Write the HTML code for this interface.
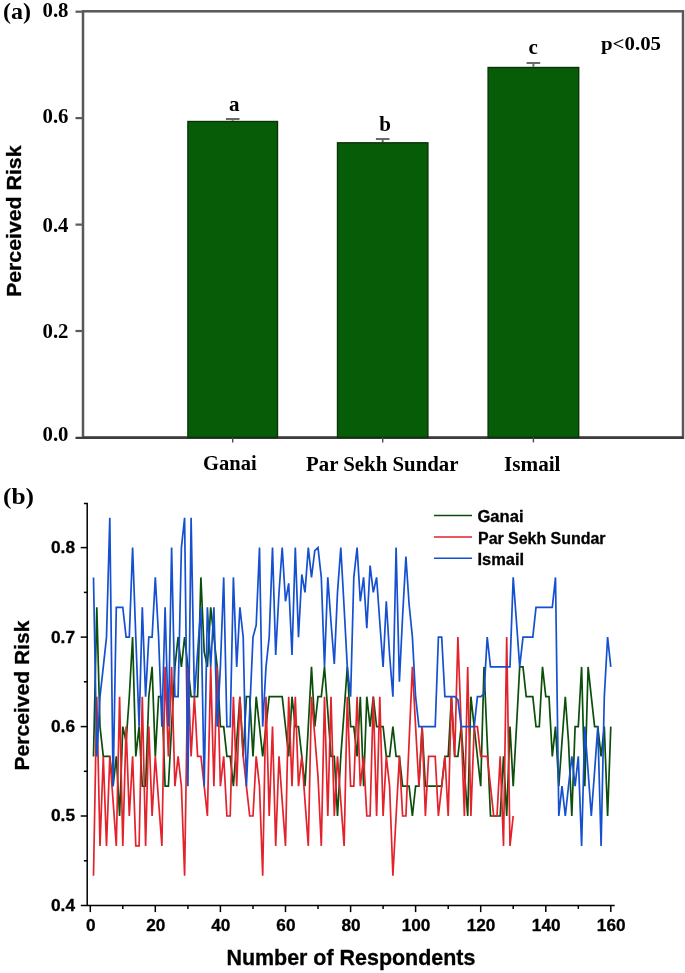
<!DOCTYPE html>
<html lang="en"><head><meta charset="utf-8"><title>Perceived Risk</title>
<style>html,body{margin:0;padding:0;background:#fff}body{width:685px;height:973px;overflow:hidden}svg{display:block}</style>
</head><body>
<svg width="685" height="973" viewBox="0 0 685 973">
<rect width="685" height="973" fill="#fff"/>
<g id="chartA">
<rect x="83" y="11.3" width="600" height="426.1" fill="none" stroke="#585858" stroke-width="2.5"/>
<line x1="75.5" y1="437.9" x2="683.8" y2="437.9" stroke="#3c3c3c" stroke-width="2.4"/>
<line x1="75.5" y1="331.0" x2="83" y2="331.0" stroke="#5a5a5a" stroke-width="2.2"/>
<line x1="75.5" y1="224.6" x2="83" y2="224.6" stroke="#5a5a5a" stroke-width="2.2"/>
<line x1="75.5" y1="118.1" x2="83" y2="118.1" stroke="#5a5a5a" stroke-width="2.2"/>
<line x1="75.5" y1="11.7" x2="83" y2="11.7" stroke="#5a5a5a" stroke-width="2.2"/>
<rect x="187.9" y="121.5" width="89.6" height="315.9" fill="#075c07" stroke="#0a330a" stroke-width="1.4"/>
<path d="M232.7 120.8 V118.9 M225.9 118.9 H239.5" stroke="#6a6a6a" stroke-width="2" fill="none"/>
<line x1="232.7" y1="437.4" x2="232.7" y2="442.4" stroke="#4a4a4a" stroke-width="1.4"/>
<rect x="337.5" y="142.8" width="90.4" height="294.6" fill="#075c07" stroke="#0a330a" stroke-width="1.4"/>
<path d="M382.7 142.1 V138.9 M375.9 138.9 H389.5" stroke="#6a6a6a" stroke-width="2" fill="none"/>
<line x1="382.7" y1="437.4" x2="382.7" y2="442.4" stroke="#4a4a4a" stroke-width="1.4"/>
<rect x="488.1" y="67.5" width="90.6" height="369.9" fill="#075c07" stroke="#0a330a" stroke-width="1.4"/>
<path d="M533.4 66.8 V63.1 M526.6 63.1 H540.2" stroke="#6a6a6a" stroke-width="2" fill="none"/>
<line x1="533.4" y1="437.4" x2="533.4" y2="442.4" stroke="#4a4a4a" stroke-width="1.4"/>
</g>
<g font-family="'Liberation Serif', serif" font-weight="bold" fill="#000">
<text x="3" y="18.5" font-size="24" textLength="28" lengthAdjust="spacingAndGlyphs">(a)</text>
<text x="3" y="504" font-size="24" textLength="31" lengthAdjust="spacingAndGlyphs">(b)</text>
<text x="42.5" y="441.2" font-size="20" textLength="26" lengthAdjust="spacingAndGlyphs">0.0</text>
<text x="42.5" y="338.0" font-size="20" textLength="26" lengthAdjust="spacingAndGlyphs">0.2</text>
<text x="42.5" y="231.6" font-size="20" textLength="26" lengthAdjust="spacingAndGlyphs">0.4</text>
<text x="42.5" y="122.5" font-size="20" textLength="26" lengthAdjust="spacingAndGlyphs">0.6</text>
<text x="42.5" y="17.3" font-size="20" textLength="26" lengthAdjust="spacingAndGlyphs">0.8</text>
<text x="203" y="469.8" font-size="20" textLength="53.7" lengthAdjust="spacingAndGlyphs">Ganai</text>
<text x="306" y="470.5" font-size="20" textLength="152.5" lengthAdjust="spacingAndGlyphs">Par Sekh Sundar</text>
<text x="504" y="471" font-size="20" textLength="56.5" lengthAdjust="spacingAndGlyphs">Ismail</text>
<text x="601" y="50.4" font-size="19.5" textLength="60" lengthAdjust="spacingAndGlyphs">p&lt;0.05</text>
<text x="234.3" y="110.6" font-size="21" text-anchor="middle">a</text>
<text x="385" y="131" font-size="21" text-anchor="middle">b</text>
<text x="533.2" y="53.5" font-size="21" text-anchor="middle">c</text>
</g>
<g font-family="'Liberation Sans', sans-serif" font-weight="bold" fill="#000" stroke="#000" stroke-width="0.3">
<text transform="translate(20.7 297) rotate(-90)" font-size="21" textLength="151.5" lengthAdjust="spacingAndGlyphs">Perceived Risk</text>
<text transform="translate(29.2 770.5) rotate(-90)" font-size="21" textLength="150" lengthAdjust="spacingAndGlyphs">Perceived Risk</text>
<text x="51" y="910.9" font-size="17.3" textLength="24" lengthAdjust="spacingAndGlyphs">0.4</text>
<text x="51" y="821.4" font-size="17.3" textLength="24" lengthAdjust="spacingAndGlyphs">0.5</text>
<text x="51" y="732.0" font-size="17.3" textLength="24" lengthAdjust="spacingAndGlyphs">0.6</text>
<text x="51" y="642.5" font-size="17.3" textLength="24" lengthAdjust="spacingAndGlyphs">0.7</text>
<text x="51" y="553.0" font-size="17.3" textLength="24" lengthAdjust="spacingAndGlyphs">0.8</text>
<text x="90.7" y="931" font-size="17.2" text-anchor="middle">0</text>
<text x="155.8" y="931" font-size="17.2" text-anchor="middle">20</text>
<text x="220.8" y="931" font-size="17.2" text-anchor="middle">40</text>
<text x="285.9" y="931" font-size="17.2" text-anchor="middle">60</text>
<text x="351.0" y="931" font-size="17.2" text-anchor="middle">80</text>
<text x="416.0" y="931" font-size="17.2" text-anchor="middle">100</text>
<text x="481.1" y="931" font-size="17.2" text-anchor="middle">120</text>
<text x="546.2" y="931" font-size="17.2" text-anchor="middle">140</text>
<text x="611.2" y="931" font-size="17.2" text-anchor="middle">160</text>
<text x="226.4" y="965.3" font-size="21.4" textLength="249" lengthAdjust="spacingAndGlyphs">Number of Respondents</text>
<text x="477.5" y="521.5" font-size="16" textLength="46" lengthAdjust="spacingAndGlyphs">Ganai</text>
<text x="478" y="544" font-size="16" textLength="127.5" lengthAdjust="spacingAndGlyphs">Par Sekh Sundar</text>
<text x="477.5" y="564.7" font-size="16" textLength="46.5" lengthAdjust="spacingAndGlyphs">Ismail</text>
</g>
<g id="chartB" stroke="#000" stroke-width="1.5" fill="none">
<path d="M83.9 503.5 H87.2 V905.5 H614.7 M80.8 905.5 H87.2"/>
<line x1="83.9" y1="860.8" x2="87.2" y2="860.8"/>
<line x1="80.7" y1="816.0" x2="87.2" y2="816.0"/>
<line x1="83.9" y1="771.3" x2="87.2" y2="771.3"/>
<line x1="80.7" y1="726.6" x2="87.2" y2="726.6"/>
<line x1="83.9" y1="681.8" x2="87.2" y2="681.8"/>
<line x1="80.7" y1="637.1" x2="87.2" y2="637.1"/>
<line x1="83.9" y1="592.4" x2="87.2" y2="592.4"/>
<line x1="80.7" y1="547.6" x2="87.2" y2="547.6"/>
<line x1="90.3" y1="905.5" x2="90.3" y2="912.1"/>
<line x1="122.8" y1="905.5" x2="122.8" y2="908.9"/>
<line x1="155.3" y1="905.5" x2="155.3" y2="912.1"/>
<line x1="187.9" y1="905.5" x2="187.9" y2="908.9"/>
<line x1="220.4" y1="905.5" x2="220.4" y2="912.1"/>
<line x1="253.0" y1="905.5" x2="253.0" y2="908.9"/>
<line x1="285.5" y1="905.5" x2="285.5" y2="912.1"/>
<line x1="318.0" y1="905.5" x2="318.0" y2="908.9"/>
<line x1="350.6" y1="905.5" x2="350.6" y2="912.1"/>
<line x1="383.1" y1="905.5" x2="383.1" y2="908.9"/>
<line x1="415.6" y1="905.5" x2="415.6" y2="912.1"/>
<line x1="448.2" y1="905.5" x2="448.2" y2="908.9"/>
<line x1="480.7" y1="905.5" x2="480.7" y2="912.1"/>
<line x1="513.2" y1="905.5" x2="513.2" y2="908.9"/>
<line x1="545.8" y1="905.5" x2="545.8" y2="912.1"/>
<line x1="578.3" y1="905.5" x2="578.3" y2="908.9"/>
<line x1="610.8" y1="905.5" x2="610.8" y2="912.1"/>
</g>
<g fill="none" stroke-width="1.7" stroke-linejoin="miter" stroke-miterlimit="3">
<line x1="434" y1="515.4" x2="472" y2="515.4" stroke="#0b4f0b" stroke-width="1.5"/>
<line x1="434" y1="537" x2="472" y2="537" stroke="#e3222b" stroke-width="1.5"/>
<line x1="434" y1="558.2" x2="472" y2="558.2" stroke="#1450cf" stroke-width="1.5"/>
<polyline stroke="#0b4f0b" points="93.5,756.4 96.8,607.3 100.0,726.6 103.3,756.4 106.5,756.4 109.8,756.4 113.1,786.2 116.3,756.4 119.6,816.0 122.8,726.6 126.1,741.5 129.3,696.7 132.6,637.1 135.8,756.4 139.1,726.6 142.3,786.2 145.6,786.2 148.8,696.7 152.1,666.9 155.3,756.4 158.6,696.7 161.9,696.7 165.1,786.2 168.4,786.2 171.6,726.6 174.9,666.9 178.1,637.1 181.4,666.9 184.6,637.1 187.9,666.9 191.1,696.7 194.4,696.7 197.6,696.7 200.9,577.4 204.2,652.0 207.4,666.9 210.7,607.3 213.9,637.1 217.2,666.9 220.4,726.6 223.7,726.6 226.9,756.4 230.2,756.4 233.4,786.2 236.7,741.5 239.9,696.7 243.2,756.4 246.4,696.7 249.7,696.7 253.0,756.4 256.2,696.7 259.5,726.6 262.7,756.4 266.0,726.6 269.2,696.7 272.5,696.7 275.7,696.7 279.0,696.7 282.2,696.7 285.5,726.6 288.7,756.4 292.0,696.7 295.3,726.6 298.5,726.6 301.8,756.4 305.0,786.2 308.3,726.6 311.5,666.9 314.8,726.6 318.0,696.7 321.3,696.7 324.5,666.9 327.8,711.6 331.0,756.4 334.3,756.4 337.5,816.0 340.8,756.4 344.1,711.6 347.3,666.9 350.6,726.6 353.8,726.6 357.1,756.4 360.3,696.7 363.6,786.2 366.8,696.7 370.1,726.6 373.3,696.7 376.6,726.6 379.8,726.6 383.1,726.6 386.3,756.4 389.6,756.4 392.9,726.6 396.1,756.4 399.4,756.4 402.6,786.2 405.9,786.2 409.1,786.2 412.4,816.0 415.6,786.2 418.9,786.2 422.1,726.6 425.4,786.2 428.6,786.2 431.9,786.2 435.2,786.2 438.4,786.2 441.7,786.2 444.9,756.4 448.2,756.4 451.4,696.7 454.7,756.4 457.9,756.4 461.2,726.6 464.4,771.3 467.7,816.0 470.9,696.7 474.2,726.6 477.4,756.4 480.7,786.2 484.0,666.9 487.2,741.5 490.5,816.0 493.7,816.0 497.0,816.0 500.2,816.0 503.5,756.4 506.7,816.0 510.0,726.6 513.2,786.2 516.5,726.6 519.7,666.9 523.0,666.9 526.2,696.7 529.5,696.7 532.8,696.7 536.0,726.6 539.3,726.6 542.5,666.9 545.8,696.7 549.0,696.7 552.3,756.4 555.5,726.6 558.8,786.2 562.0,741.5 565.3,696.7 568.5,741.5 571.8,816.0 575.1,726.6 578.3,726.6 581.6,666.9 584.8,786.2 588.1,666.9 591.3,696.7 594.6,726.6 597.8,726.6 601.1,756.4 604.3,726.6 607.6,816.0 610.8,726.6"/>
<polyline stroke="#e3222b" points="93.5,875.7 96.8,696.7 100.0,845.9 103.3,756.4 106.5,845.9 109.8,756.4 113.1,801.1 116.3,845.9 119.6,696.7 122.8,845.9 126.1,726.6 129.3,816.0 132.6,756.4 135.8,845.9 139.1,845.9 142.3,696.7 145.6,845.9 148.8,726.6 152.1,816.0 155.3,756.4 158.6,801.1 161.9,845.9 165.1,666.9 168.4,756.4 171.6,666.9 174.9,786.2 178.1,756.4 181.4,786.2 184.6,875.7 187.9,666.9 191.1,756.4 194.4,696.7 197.6,756.4 200.9,756.4 204.2,786.2 207.4,816.0 210.7,666.9 213.9,786.2 217.2,666.9 220.4,786.2 223.7,756.4 226.9,816.0 230.2,816.0 233.4,696.7 236.7,786.2 239.9,696.7 243.2,756.4 246.4,786.2 249.7,816.0 253.0,816.0 256.2,756.4 259.5,786.2 262.7,875.7 266.0,696.7 269.2,816.0 272.5,726.6 275.7,845.9 279.0,756.4 282.2,801.1 285.5,845.9 288.7,696.7 292.0,786.2 295.3,696.7 298.5,786.2 301.8,756.4 305.0,801.1 308.3,845.9 311.5,696.7 314.8,736.4 318.0,776.4 321.3,845.9 324.5,696.7 327.8,816.0 331.0,696.7 334.3,816.0 337.5,756.4 340.8,801.1 344.1,845.9 347.3,696.7 350.6,786.2 353.8,786.2 357.1,696.7 360.3,786.2 363.6,756.4 366.8,816.0 370.1,816.0 373.3,696.7 376.6,816.0 379.8,696.7 383.1,816.0 386.3,756.4 389.6,786.2 392.9,875.7 396.1,816.0 399.4,756.4 402.6,816.0 405.9,816.0 409.1,741.5 412.4,666.9 415.6,726.6 418.9,786.2 422.1,726.6 425.4,816.0 428.6,756.4 431.9,756.4 435.2,756.4 438.4,816.0 441.7,786.2 444.9,756.4 448.2,816.0 451.4,696.7 454.7,756.4 457.9,637.1 461.2,726.6 464.4,816.0 467.7,666.9 470.9,816.0 474.2,726.6 477.4,726.6 480.7,756.4 484.0,756.4 487.2,756.4 490.5,786.2 493.7,816.0 497.0,816.0 500.2,756.4 503.5,845.9 506.7,637.1 510.0,845.9 513.2,816.0"/>
<polyline stroke="#1450cf" points="93.5,577.4 96.8,756.4 100.0,696.7 103.3,666.9 106.5,637.1 109.8,517.8 113.1,786.2 116.3,607.3 119.6,607.3 122.8,607.3 126.1,637.1 129.3,637.1 132.6,547.6 135.8,637.1 139.1,726.6 142.3,607.3 145.6,696.7 148.8,637.1 152.1,637.1 155.3,577.4 158.6,637.1 161.9,726.6 165.1,607.3 168.4,726.6 171.6,547.6 174.9,696.7 178.1,696.7 181.4,547.6 184.6,517.8 187.9,786.2 191.1,517.8 194.4,696.7 197.6,652.0 200.9,607.3 204.2,786.2 207.4,607.3 210.7,666.9 213.9,607.3 217.2,726.6 220.4,666.9 223.7,577.4 226.9,726.6 230.2,726.6 233.4,577.4 236.7,666.9 239.9,607.3 243.2,637.1 246.4,786.2 249.7,711.6 253.0,637.1 256.2,625.2 259.5,547.6 262.7,726.6 266.0,666.9 269.2,637.1 272.5,547.6 275.7,655.0 279.0,592.4 282.2,547.6 285.5,601.3 288.7,583.4 292.0,655.0 295.3,547.6 298.5,637.1 301.8,574.5 305.0,592.4 308.3,547.6 311.5,577.4 314.8,550.6 318.0,547.6 321.3,577.4 324.5,666.9 327.8,577.4 331.0,622.2 334.3,663.9 337.5,592.4 340.8,547.6 344.1,607.3 347.3,666.9 350.6,696.7 353.8,577.4 357.1,547.6 360.3,601.3 363.6,577.4 366.8,628.1 370.1,565.5 373.3,592.4 376.6,577.4 379.8,622.2 383.1,666.9 386.3,601.3 389.6,655.0 392.9,696.7 396.1,547.6 399.4,681.8 402.6,616.2 405.9,556.6 409.1,604.3 412.4,637.1 415.6,696.7 418.9,726.6 422.1,726.6 425.4,726.6 428.6,726.6 431.9,726.6 435.2,726.6 438.4,637.1 441.7,637.1 444.9,696.7 448.2,696.7 451.4,696.7 454.7,696.7 457.9,699.7 461.2,726.6 464.4,726.6 467.7,726.6 470.9,726.6 474.2,726.6 477.4,696.7 480.7,696.7 484.0,693.8 487.2,637.1 490.5,666.9 493.7,666.9 497.0,666.9 500.2,666.9 503.5,666.9 506.7,666.9 510.0,666.9 513.2,577.4 516.5,622.2 519.7,666.9 523.0,637.1 526.2,637.1 529.5,637.1 532.8,637.1 536.0,607.3 539.3,607.3 542.5,607.3 545.8,607.3 549.0,607.3 552.3,607.3 555.5,577.4 558.8,816.0 562.0,786.2 565.3,816.0 568.5,786.2 571.8,756.4 575.1,786.2 578.3,756.4 581.6,845.9 584.8,726.6 588.1,771.3 591.3,816.0 594.6,771.3 597.8,726.6 601.1,845.9 604.3,696.7 607.6,637.1 610.8,666.9"/>
</g>
</svg>
</body></html>
